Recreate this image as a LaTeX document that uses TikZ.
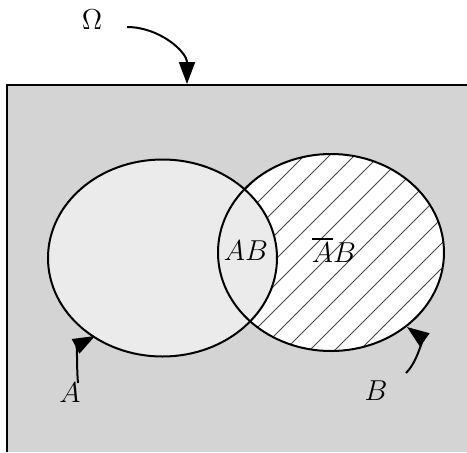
\documentclass[tikz,border=0pt]{standalone}
\usepackage{amsmath}
\usepackage{tikz}
\usetikzlibrary{arrows.meta}
\usepackage{xcolor}
\definecolor{sample}{HTML}{D4D4D4}
\definecolor{setA}{HTML}{EBEBEB}
\definecolor{hatch}{HTML}{4D4545}

\begin{document}
\begin{tikzpicture}[x=0.5pt,y=0.5pt,
  every node/.style={font=\fontsize{14}{17}\selectfont},
  >={Triangle[length=11pt,width=8pt]},
  rim/.style={line width=1pt},
  pointer/.style={->,line width=1pt}]
 \useasboundingbox (0,0) rectangle (467,-452);
 % sample space
 \fill[sample] (7,-85) rectangle (467,-452);
 \draw[rim] (7,-452) -- (7,-85) -- (467,-85);
 % B minus A, hatched
 \fill[white] (331,-252.5) ellipse [x radius=113, y radius=98.5];
 \begin{scope}
  \clip (331,-252.5) ellipse [x radius=113, y radius=98.5];
  \foreach \c in {335,360,...,860}
   \draw[hatch,line width=0.4pt] (\c-360,-360) -- (\c-140,-140);
 \end{scope}
 % A on top
 \fill[setA] (162.5,-258) ellipse [x radius=114.5, y radius=98.5];
 \draw[rim] (162.5,-258) ellipse [x radius=114.5, y radius=98.5];
 \draw[rim] (331,-252.5) ellipse [x radius=113, y radius=98.5];
 % labels
 \node (omega) at (92,-20) {$\Omega$};
 \node (ab) at (246,-251) {$AB$};
 \node (nab) at (334,-250) {$\overline{A}B$};
 \node (labA) at (70,-393) {$A$};
 \node (labB) at (376,-391) {$B$};
 \coordinate (omegaTail) at (127,-27);
 \coordinate (omegaHead) at (187,-84);
 \coordinate (aTail) at (78,-383);
 \coordinate (aHead) at (95,-336);
 \coordinate (bTail) at (406,-373);
 \coordinate (bHead) at (407,-327);
 \draw[pointer] (omegaTail) to[out=0,in=90] (omegaHead);
 \draw[pointer] (aTail) to[out=95,in=208] (aHead);
 \draw[pointer] (bTail) to[out=45,in=-36] (bHead);
\end{tikzpicture}
\end{document}
